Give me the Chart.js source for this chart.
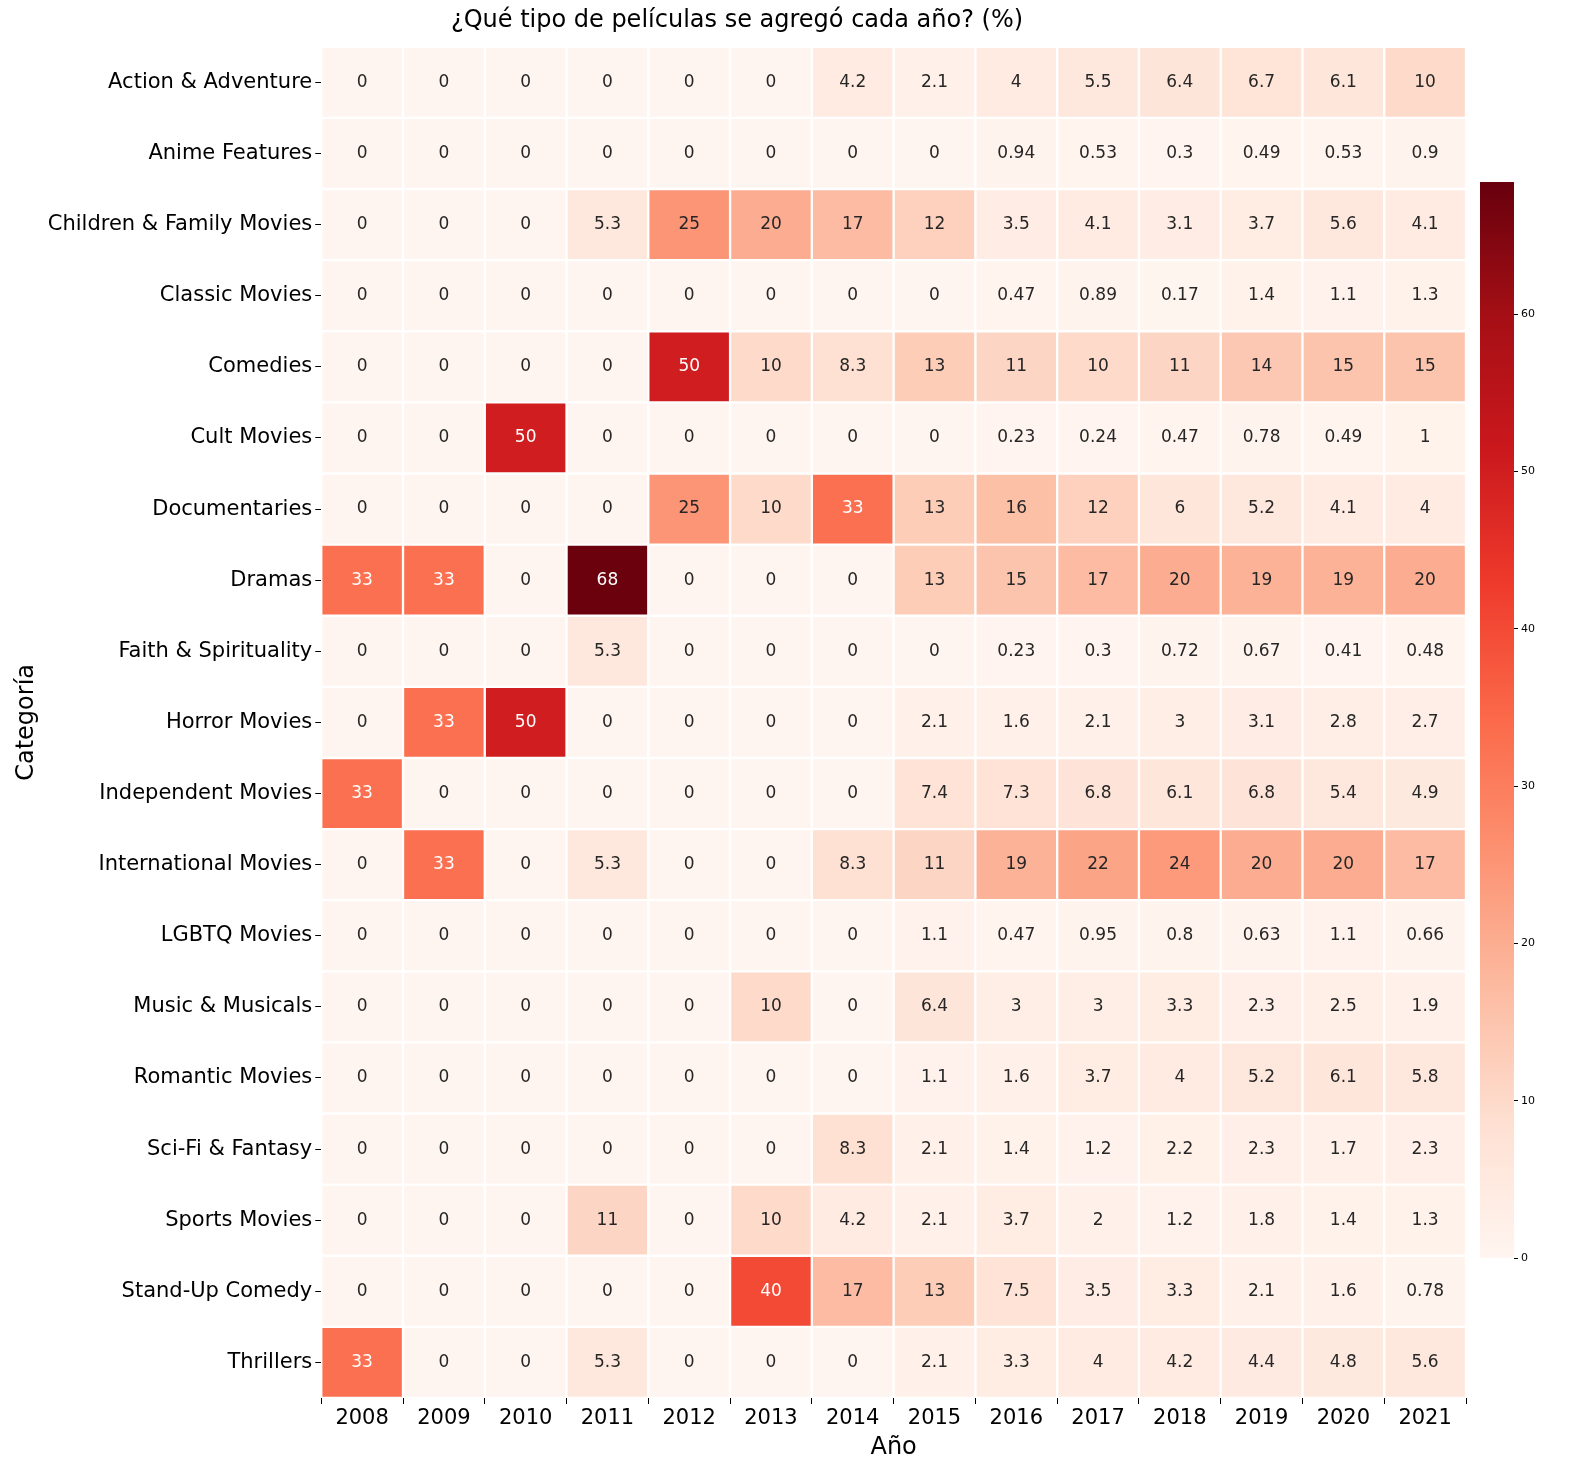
<!DOCTYPE html>
<html><head><meta charset="utf-8">
<script src="https://cdn.jsdelivr.net/npm/chart.js@4"></script>
<style>body{margin:0;background:#fff;font-family:"DejaVu Sans"}#a{position:absolute;left:0;top:0;width:1472px;height:1470px}#b{position:absolute;left:1468px;top:172px;width:110px;height:1096px}</style>
</head><body><div id="a"><canvas id="c1"></canvas></div><div id="b"><canvas id="c2"></canvas></div>
<script>
const years=["2008","2009","2010","2011","2012","2013","2014","2015","2016","2017","2018","2019","2020","2021"];
const categories=["Action & Adventure","Anime Features","Children & Family Movies","Classic Movies","Comedies","Cult Movies","Documentaries","Dramas","Faith & Spirituality","Horror Movies","Independent Movies","International Movies","LGBTQ Movies","Music & Musicals","Romantic Movies","Sci-Fi & Fantasy","Sports Movies","Stand-Up Comedy","Thrillers"];
const action=[0,0,0,0,0,0,4.2,2.1,4,5.5,6.4,6.7,6.1,10];
const anime=[0,0,0,0,0,0,0,0,0.94,0.53,0.3,0.49,0.53,0.9];
const children=[0,0,0,5.3,25,20,17,12,3.5,4.1,3.1,3.7,5.6,4.1];
const classic=[0,0,0,0,0,0,0,0,0.47,0.89,0.17,1.4,1.1,1.3];
const comedies=[0,0,0,0,50,10,8.3,13,11,10,11,14,15,15];
const cult=[0,0,50,0,0,0,0,0,0.23,0.24,0.47,0.78,0.49,1];
const docs=[0,0,0,0,25,10,33,13,16,12,6,5.2,4.1,4];
const dramas=[33,33,0,68,0,0,0,13,15,17,20,19,19,20];
const faith=[0,0,0,5.3,0,0,0,0,0.23,0.3,0.72,0.67,0.41,0.48];
const horror=[0,33,50,0,0,0,0,2.1,1.6,2.1,3,3.1,2.8,2.7];
const indep=[33,0,0,0,0,0,0,7.4,7.3,6.8,6.1,6.8,5.4,4.9];
const intl=[0,33,0,5.3,0,0,8.3,11,19,22,24,20,20,17];
const lgbtq=[0,0,0,0,0,0,0,1.1,0.47,0.95,0.8,0.63,1.1,0.66];
const music=[0,0,0,0,0,10,0,6.4,3,3,3.3,2.3,2.5,1.9];
const romantic=[0,0,0,0,0,0,0,1.1,1.6,3.7,4,5.2,6.1,5.8];
const scifi=[0,0,0,0,0,0,8.3,2.1,1.4,1.2,2.2,2.3,1.7,2.3];
const sports=[0,0,0,11,0,10,4.2,2.1,3.7,2,1.2,1.8,1.4,1.3];
const standup=[0,0,0,0,0,40,17,13,7.5,3.5,3.3,2.1,1.6,0.78];
const thrillers=[33,0,0,5.3,0,0,0,2.1,3.3,4,4.2,4.4,4.8,5.6];
const rows=[action,anime,children,classic,comedies,cult,docs,dramas,faith,horror,indep,intl,lgbtq,music,romantic,scifi,sports,standup,thrillers];
const vmax=68.4;
const stops=[[255,245,240],[254,224,210],[252,187,161],[252,146,114],[251,106,74],[239,59,44],[203,24,29],[165,15,21],[103,0,13]];
function cmap(v){let t=Math.max(0,Math.min(1,v/vmax))*8;let i=Math.min(7,Math.floor(t)),f=t-i;const a=stops[i],b=stops[i+1];return [0,1,2].map(k=>Math.round(a[k]+(b[k]-a[k])*f));}
function lum(c){const l=c.map(x=>{x/=255;return x<=0.03928?x/12.92:Math.pow((x+0.055)/1.055,2.4)});return 0.2126*l[0]+0.7152*l[1]+0.0722*l[2];}
const datasets=rows.map((r,i)=>({label:categories[i],data:r.map(()=>1),vals:r,backgroundColor:r.map(v=>'rgb('+cmap(v).join(',')+')'),borderColor:'#fff',borderWidth:1.5,borderSkipped:false,barPercentage:1,categoryPercentage:1}));
const labelPlugin={id:'lbl',afterDatasetsDraw(ch){const ctx=ch.ctx;ctx.save();ctx.font='17px "DejaVu Sans"';ctx.textAlign='center';ctx.textBaseline='middle';ch.data.datasets.forEach((ds,i)=>{ch.getDatasetMeta(i).data.forEach((el,j)=>{const v=ds.vals[j];ctx.fillStyle=lum(cmap(v))<0.408?'#fff':'#262626';const c=el.getCenterPoint();ctx.fillText(String(v),c.x,c.y);});});ctx.restore();}};
const tickGrid={display:true,drawOnChartArea:false,drawTicks:true,tickLength:6,color:'#000'};
new Chart(document.getElementById('c1'),{type:'bar',data:{labels:years,datasets},plugins:[labelPlugin],
options:{responsive:true,maintainAspectRatio:false,animation:false,layout:{padding:{right:6,top:0,bottom:4,left:8}},
plugins:{legend:{display:false},tooltip:{enabled:false},title:{display:true,text:'¿Qué tipo de películas se agregó cada año? (%)',font:{size:24,family:'DejaVu Sans',weight:'normal'},color:'#000',padding:{top:6,bottom:12}}},
scales:{x:{stacked:true,grid:tickGrid,border:{display:false},ticks:{color:'#000',padding:2,font:{size:21,family:'DejaVu Sans'}},title:{display:true,text:'Año',color:'#000',font:{size:24,family:'DejaVu Sans'},padding:{top:0}}},
y:{stacked:true,reverse:true,min:0,max:19,grid:tickGrid,border:{display:false},afterBuildTicks(ax){ax.ticks=categories.map((c,i)=>({value:i+0.5}));},ticks:{autoSkip:false,color:'#000',padding:3,font:{size:21,family:'DejaVu Sans'},callback:(v)=>categories[Math.floor(v)]},title:{display:true,text:'Categoría',color:'#000',font:{size:24,family:'DejaVu Sans'}}}}}});
new Chart(document.getElementById('c2'),{type:'bar',data:{labels:[''],datasets:[{data:[vmax],barPercentage:1,categoryPercentage:1,backgroundColor(ctx){const ca=ctx.chart.chartArea;if(!ca)return '#fff';const g=ctx.chart.ctx.createLinearGradient(0,ca.bottom,0,ca.top);stops.forEach((s,i)=>g.addColorStop(i/8,'rgb('+s.join(',')+')'));return g;}}]},
options:{responsive:true,maintainAspectRatio:false,animation:false,layout:{padding:{left:12,right:40,top:10,bottom:10}},plugins:{legend:{display:false},tooltip:{enabled:false}},
scales:{x:{display:false},y:{position:'right',min:0,max:vmax,grid:{display:true,drawOnChartArea:false,tickLength:4,color:'#000'},border:{display:false},afterBuildTicks(ax){ax.ticks=[0,10,20,30,40,50,60].map(v=>({value:v}));},ticks:{color:'#000',font:{size:11,family:'DejaVu Sans'}}}}}});
</script></body></html>
